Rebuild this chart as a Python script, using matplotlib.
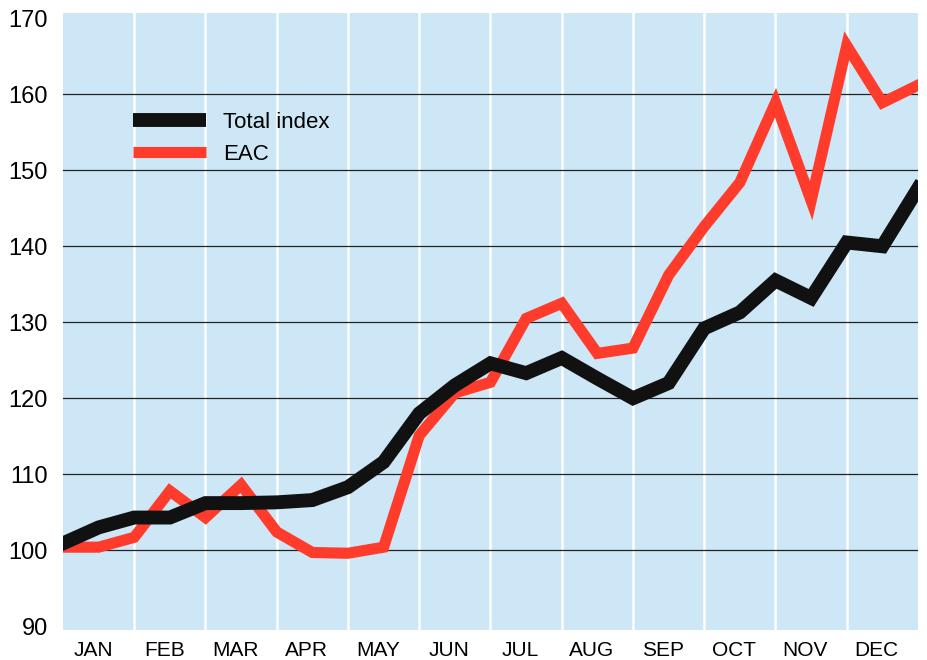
import matplotlib.pyplot as plt
import numpy as np

# Semi-monthly readings, JAN to end of DEC
months = ['JAN', 'FEB', 'MAR', 'APR', 'MAY', 'JUN',
          'JUL', 'AUG', 'SEP', 'OCT', 'NOV', 'DEC']
total_index = [100.9, 103.0, 104.3, 104.3, 106.2, 106.2, 106.3, 106.6, 108.3,
               111.6, 118.0, 121.7, 124.6, 123.3, 125.3, 122.6, 120.0, 122.0,
               129.2, 131.3, 135.5, 133.2, 140.5, 140.0, 147.6]
eac = [100.4, 100.4, 101.7, 107.8, 104.3, 108.6, 102.4, 99.7, 99.6,
       100.4, 115.1, 120.7, 122.1, 130.5, 132.5, 125.9, 126.6, 136.2,
       142.6, 148.4, 158.9, 146.0, 166.4, 158.9, 161.2]
x = np.arange(len(total_index)) * 0.5

plt.rcParams['font.family'] = ['Liberation Sans', 'DejaVu Sans']

fig = plt.figure(figsize=(9.28, 6.60), dpi=100)
ax = fig.add_axes([63 / 928, 30 / 660, 855 / 928, 617 / 660])
ax.set_facecolor('#cde7f7')

# white month separators, thin black value lines
for m in range(1, 12):
    ax.axvline(m, color='white', linewidth=1.8, zorder=1)
for v in range(100, 170, 10):
    ax.axhline(v, color='#222222', linewidth=0.9, zorder=2)

ax.plot(x, eac, color='#ff3b2b', linewidth=8, solid_joinstyle='miter', zorder=3, label='EAC')
ax.plot(x, total_index, color='#111111', linewidth=10, solid_joinstyle='miter', zorder=4,
        label='Total index')

ax.set_xlim(0, 12)
ax.set_ylim(89.5, 170.7)
ax.set_yticks(range(90, 171, 10))
ax.set_yticklabels([str(v) for v in range(90, 171, 10)], fontsize=17)
ax.set_xticks(np.arange(12) + 0.42)
ax.set_xticklabels(months, fontsize=15)
ax.tick_params(length=0, pad=8)
ax.tick_params(axis='y', pad=11)
for s in ax.spines.values():
    s.set_visible(False)

handles, labels = ax.get_legend_handles_labels()
leg = ax.legend(handles[::-1], labels[::-1], loc='upper left', bbox_to_anchor=(0.082, 0.84),
                frameon=False, fontsize=16, handlelength=3.3, handletextpad=0.75,
                labelspacing=0.5, borderpad=0, borderaxespad=0)
for h in leg.get_lines():
    h.set_solid_capstyle('butt')

plt.savefig('out.png', dpi=100)
